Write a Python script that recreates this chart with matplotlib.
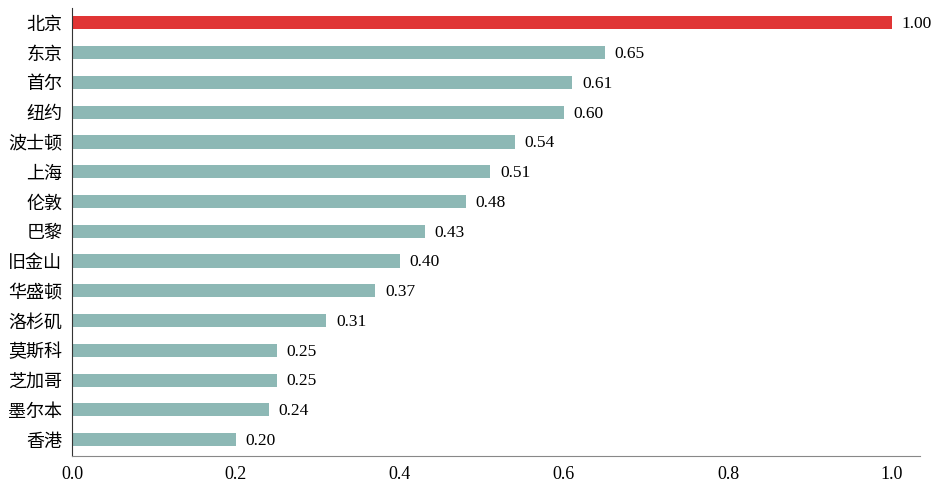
import matplotlib
matplotlib.use('Agg')
from matplotlib import pyplot as plt

cities = ['北京', '东京', '首尔', '纽约', '波士顿', '上海', '伦敦', '巴黎', '旧金山',
          '华盛顿', '洛杉矶', '莫斯科', '芝加哥', '墨尔本', '香港']
values = [1.00, 0.65, 0.61, 0.60, 0.54, 0.51, 0.48, 0.43, 0.40, 0.37, 0.31, 0.25, 0.25, 0.24, 0.20]
x_ticks = [0.0, 0.2, 0.4, 0.6, 0.8, 1.0]

fig = plt.figure(figsize=(9.31, 4.88), dpi=100)
ax = fig.add_axes([0.0773, 0.0656, 0.9107, 0.918])

colors = ['#e03535' if i == 0 else '#8db8b5' for i in range(len(cities))]
ypos = list(range(len(cities)))
ax.barh(ypos, values, height=0.44, color=colors)

# value labels
for y, v in zip(ypos, values):
    ax.annotate(f'{v:.2f}', (v, y), xytext=(7, -1), textcoords='offset points',
                va='center', ha='left', fontsize=12.5, family='Liberation Serif')

ax.set_xlim(0, 1.034)
ax.set_ylim(len(cities) - 0.45, -0.5)
ax.set_xticks(x_ticks)
ax.set_xticklabels([f'{t:.1f}' for t in x_ticks], family='Liberation Serif', fontsize=13)
ax.set_yticks(ypos)
ax.set_yticklabels(cities, family=['Noto Sans CJK SC', 'DejaVu Sans'], fontsize=13)
ax.tick_params(axis='both', length=0)
ax.tick_params(axis='x', pad=7)
ax.tick_params(axis='y', pad=7)

ax.spines['top'].set_visible(False)
ax.spines['right'].set_visible(False)
ax.spines['left'].set_color('#333333')
ax.spines['bottom'].set_color('#888888')

fig.savefig('out.png', dpi=100)
